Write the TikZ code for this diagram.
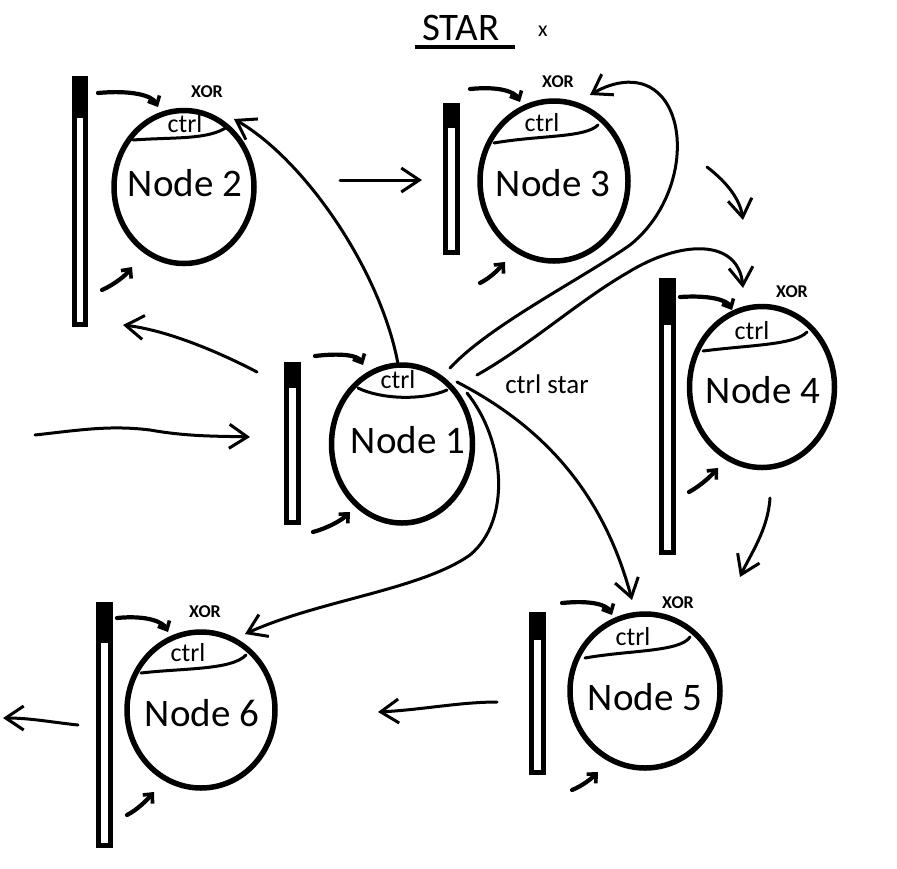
\documentclass[tikz,border=0pt]{standalone}
\usepackage{fontspec}
\setmainfont{Carlito}
\usetikzlibrary{shapes.geometric,arrows.meta}
\begin{document}
\begin{tikzpicture}[x=1pt,y=-1pt,
  circ/.style={ellipse, draw, line width=5.5pt, inner sep=0pt},
  bar/.style={rectangle, draw, line width=5pt, fill=white, inner sep=0pt, outer sep=0pt, minimum width=11.5pt},
  ntext/.style={font=\fontsize{39}{44}\selectfont, inner sep=0pt},
  ctext/.style={font=\fontsize{26}{30}\selectfont, inner sep=0pt},
  xortext/.style={font=\fontsize{18}{20}\selectfont\bfseries, inner sep=0pt},
  conn/.style={line width=3pt, line cap=round, line join=round, -{Straight Barb[length=18pt,width=24pt,line width=3pt]}},
  small/.style={line width=4.2pt, line cap=round, -{Straight Barb[length=7pt,width=13pt,line width=3.6pt]}},
  ctrlarc/.style={line width=3pt, line cap=round}
]
\fill[white] (0,0) rectangle (897,868);
\useasboundingbox (0,0) rectangle (897,868);

% title
\node[ntext] (title) at (461,28) {STAR};
\draw[line width=3.5pt] (415,47) -- (515,47);
\node[font=\fontsize{22}{24}\selectfont, inner sep=0pt] (xmark) at (543,31) {x};

% nodes (ellipses)
\node[circ, minimum width=140pt, minimum height=153pt] (n2) at (184,187) {};
\node[circ, minimum width=148pt, minimum height=160pt] (n3) at (554,181) {};
\node[circ, minimum width=141pt, minimum height=158pt] (n1) at (402,444) {};
\node[circ, minimum width=145pt, minimum height=161pt] (n4) at (762,387) {};
\node[circ, minimum width=150pt, minimum height=154pt] (n5) at (645,691) {};
\node[circ, minimum width=148pt, minimum height=156pt] (n6) at (201,710) {};

\node[ntext] (t2) at (185,183) {Node 2};
\node[ntext] (t3) at (553,183) {Node 3};
\node[ntext] (t1) at (408,440) {Node 1};
\node[ntext] (t4) at (763,390) {Node 4};
\node[ntext] (t5) at (645,697) {Node 5};
\node[ntext] (t6) at (202,713) {Node 6};

% ctrl labels and arcs
\node[ctext] (c2) at (185,124) {ctrl};
\node[ctext] (c3) at (542,123) {ctrl};
\node[ctext] (c1) at (398,380) {ctrl};
\node[ctext] (c4) at (752,331) {ctrl};
\node[ctext] (c5) at (633,637) {ctrl};
\node[ctext] (c6) at (188,653) {ctrl};
\draw[ctrlarc] (133,140) .. controls (175,137) and (208,140) .. (227,127);
\draw[ctrlarc] (494,143) .. controls (540,135) and (585,138) .. (598,125);
\draw[ctrlarc] (358,388) .. controls (380,399) and (422,401) .. (447,390);
\draw[ctrlarc] (703,351) .. controls (750,345) and (795,345) .. (807,332);
\draw[ctrlarc] (585,658) .. controls (630,650) and (680,652) .. (690,637);
\draw[ctrlarc] (141,673) .. controls (185,668) and (232,670) .. (246,655);

% XOR labels
\node[xortext] (x2) at (207,92) {XOR};
\node[xortext] (x3) at (558,82) {XOR};
\node[xortext] (x4) at (792,292) {XOR};
\node[xortext] (x5) at (678,603) {XOR};
\node[xortext] (x6) at (205,612) {XOR};

\node[font=\fontsize{27}{30}\selectfont, inner sep=0pt] (cstar) at (547,384) {ctrl star};

% bars
\node[bar, minimum height=246pt] (b2) at (80,201.5) {};
\fill (72,76) rectangle (88,118);
\node[bar, minimum height=147pt] (b3) at (451.5,179) {};
\fill (443,103) rectangle (460,128);
\node[bar, minimum height=158pt] (b1) at (292.5,443.5) {};
\fill (284,362) rectangle (301,388);
\node[bar, minimum height=272pt] (b4) at (667.5,416.5) {};
\fill (659,278) rectangle (676,325);
\node[bar, minimum height=158pt] (b5) at (537.5,693.5) {};
\fill (529,612) rectangle (546,640);
\node[bar, minimum height=241pt] (b6) at (104.5,725) {};
\fill (96,602) rectangle (113,643);

% free-end coordinates
\coordinate (inS) at (35,435);
\coordinate (inE) at (250,437);
\coordinate (ba2S) at (257,372);
\coordinate (ba2E) at (123,325);
\coordinate (e2) at (234,119);
\coordinate (h23S) at (340,180);
\coordinate (h23E) at (422,180);
\coordinate (a3E) at (590,95);
\coordinate (a4E) at (743,288);
\coordinate (s34S) at (707,167);
\coordinate (s34E) at (743,220);
\coordinate (a5E) at (632,600);
\coordinate (a6E) at (245,634);
\coordinate (s45S) at (770,498);
\coordinate (s45E) at (740,577);
\coordinate (h56S) at (497,702);
\coordinate (h56E) at (378,712);
\coordinate (outS) at (78,725);
\coordinate (outE) at (3,718);

% long connectors
\draw[conn] (inS) .. controls (80,430) and (110,425) .. (150,430) .. controls (190,437) and (220,436) .. (inE);
\draw[conn] (ba2S) .. controls (215,350) and (165,330) .. (ba2E);
\draw[conn] (n1.93) .. controls (380,270) and (305,160) .. (e2);
\draw[conn] (h23S) -- (h23E);
\draw[conn] (450,368) .. controls (490,325) and (580,280) .. (630,245) .. controls (680,205) and (690,130) .. (662,97) .. controls (642,74) and (612,82) .. (a3E);
\draw[conn] (477,375) .. controls (530,345) and (580,300) .. (627,273) .. controls (680,240) and (738,238) .. (a4E);
\draw[conn] (s34S) .. controls (728,183) and (740,200) .. (s34E);
\draw[conn] (457,382) .. controls (530,420) and (600,480) .. (a5E);
\draw[conn] (467,393) .. controls (505,440) and (512,520) .. (470,555) .. controls (420,590) and (320,600) .. (a6E);
\draw[conn] (s45S) .. controls (768,530) and (750,555) .. (s45E);
\draw[conn] (h56S) .. controls (460,702) and (420,710) .. (h56E);
\draw[conn] (outS) .. controls (50,722) and (30,718) .. (outE);

% small arrows
\draw[small] (98,93) .. controls (130,90) and (152,95) .. (158,107);
\draw[small] (102,290) .. controls (115,284) and (125,276) .. (132,267);
\draw[small] (470,89) .. controls (500,86) and (515,92) .. (520,102);
\draw[small] (480,283) .. controls (490,278) and (498,270) .. (505,262);
\draw[small] (315,356) .. controls (340,353) and (358,355) .. (363,365);
\draw[small] (313,532) .. controls (328,528) and (342,520) .. (350,512);
\draw[small] (680,297) .. controls (710,295) and (727,300) .. (732,310);
\draw[small] (689,492) .. controls (700,486) and (710,477) .. (718,468);
\draw[small] (562,603) .. controls (592,600) and (607,605) .. (612,615);
\draw[small] (572,790) .. controls (582,786) and (591,779) .. (598,772);
\draw[small] (117,618) .. controls (147,615) and (163,622) .. (168,632);
\draw[small] (127,815) .. controls (137,810) and (147,800) .. (154,792);
\end{tikzpicture}
\end{document}
